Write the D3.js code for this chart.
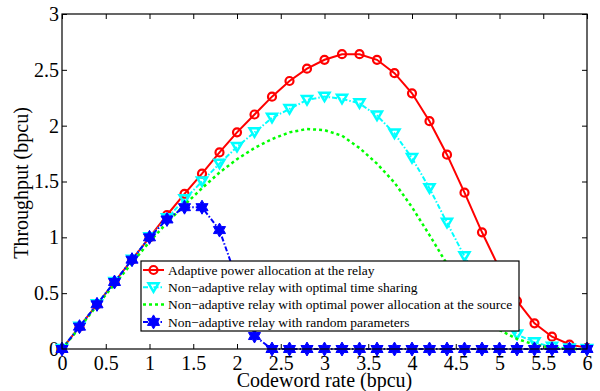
<!DOCTYPE html>
<html>
<head>
<meta charset="utf-8">
<script src="https://cdn.jsdelivr.net/npm/d3@7"></script>
<style>
  body { margin: 0; background: #fff; }
  svg { display: block; font-family: 'Liberation Serif', 'Times New Roman', serif; }
</style>
</head>
<body>
<svg width="600" height="391"></svg>
<script>
// codeword rates (bpcu)
let rates = [0, 0.2, 0.4, 0.6, 0.8, 1.0, 1.2, 1.4, 1.6, 1.8, 2.0, 2.2, 2.4, 2.6, 2.8, 3.0,
             3.2, 3.4, 3.6, 3.8, 4.0, 4.2, 4.4, 4.6, 4.8, 5.0, 5.2, 5.4, 5.6, 5.8, 6.0]

let adaptive = [0, 0.2, 0.4, 0.6, 0.8, 1.0, 1.2, 1.39, 1.57, 1.76, 1.94, 2.10, 2.26, 2.40, 2.51, 2.59,
                2.64, 2.64, 2.59, 2.47, 2.29, 2.04, 1.74, 1.40, 1.045, 0.72, 0.43, 0.23, 0.11, 0.04, 0.01]

let timeSharing = [0, 0.2, 0.4, 0.6, 0.8, 1.0, 1.17, 1.34, 1.50, 1.66, 1.81, 1.94, 2.07, 2.15, 2.23, 2.26,
                   2.24, 2.20, 2.09, 1.93, 1.71, 1.44, 1.13, 0.83, 0.55, 0.32, 0.13, 0.06, 0.02, 0.005, 0]

let powerAlloc = [0, 0.19, 0.39, 0.58, 0.77, 0.96, 1.13, 1.29, 1.44, 1.58, 1.70, 1.80, 1.88, 1.94, 1.97, 1.96,
                  1.91, 1.80, 1.66, 1.49, 1.27, 1.02, 0.76, 0.52, 0.32, 0.17, 0.09, 0.04, 0.01, 0, 0]

let randomParams = [0, 0.2, 0.4, 0.6, 0.8, 1.0, 1.16, 1.27, 1.27, 1.065, 0.62, 0.116, 0, 0, 0, 0,
                    0, 0, 0, 0, 0, 0, 0, 0, 0, 0, 0, 0, 0, 0, 0]

let xTicks = [0, 0.5, 1, 1.5, 2, 2.5, 3, 3.5, 4, 4.5, 5, 5.5, 6]
let yTicks = [0, 0.5, 1, 1.5, 2, 2.5, 3]

let legendLabels = [
  'Adaptive power allocation at the relay',
  'Non\u2212adaptive relay with optimal time sharing',
  'Non\u2212adaptive relay with optimal power allocation at the source',
  'Non\u2212adaptive relay with random parameters'
]

let plotLeft = 62, plotRight = 587, plotTop = 14, plotBottom = 349
let serif = "'Liberation Serif', 'Times New Roman', serif"

let xScale = d3.scaleLinear().domain([0, 6]).range([plotLeft, plotRight])
let yScale = d3.scaleLinear().domain([0, 3]).range([plotBottom, plotTop])

// matlab style hexagram marker, size = outer radius
let hexagram = {
  draw(ctx, R) {
    let r = R / Math.sqrt(3)
    for (let i = 0; i < 12; i++) {
      let a = -Math.PI / 2 + i * Math.PI / 6
      let rr = i % 2 === 0 ? R : r
      let x = rr * Math.cos(a), y = rr * Math.sin(a)
      if (i === 0) ctx.moveTo(x, y); else ctx.lineTo(x, y)
    }
    ctx.closePath()
  }
}
let triDown = {
  draw(ctx, R) {
    ctx.moveTo(-R, -R * 0.8)
    ctx.lineTo(R, -R * 0.8)
    ctx.lineTo(0, R * 0.9)
    ctx.closePath()
  }
}

let series = [
  { name: legendLabels[0], values: adaptive, color: '#ff0000', dash: null, width: 2, marker: 'circle' },
  { name: legendLabels[1], values: timeSharing, color: '#00ffff', dash: '5,2,1.5,2', width: 2, marker: 'tri' },
  { name: legendLabels[2], values: powerAlloc, color: '#00ff00', dash: '3,3', width: 2.5, marker: null },
  { name: legendLabels[3], values: randomParams, color: '#0000ff', dash: '5,2,1.5,2', width: 2, marker: 'hex' }
]

let svg = d3.select('svg')

let xAxis = d3.axisBottom(xScale).tickValues(xTicks).tickFormat(d => d)
              .tickSizeInner(-5).tickSizeOuter(0).tickPadding(7)
let yAxis = d3.axisLeft(yScale).tickValues(yTicks).tickFormat(d => d)
              .tickSizeInner(-5).tickSizeOuter(0).tickPadding(3)

svg.append('g')
    .attr('transform', `translate(0, ${plotBottom})`)
    .call(xAxis)
svg.append('g')
    .attr('transform', `translate(${plotLeft}, 0)`)
    .call(yAxis)
svg.append('g')
    .attr('transform', `translate(0, ${plotTop})`)
    .call(d3.axisTop(xScale).tickValues(xTicks).tickFormat('').tickSizeInner(-5).tickSizeOuter(0))
svg.append('g')
    .attr('transform', `translate(${plotRight}, 0)`)
    .call(d3.axisRight(yScale).tickValues(yTicks).tickFormat('').tickSizeInner(-5).tickSizeOuter(0))

svg.selectAll('.domain').remove()
svg.selectAll('.tick text')
    .style('font-family', serif)
    .style('font-size', '20px')
    .attr('fill', '#000')
svg.selectAll('.tick line').attr('stroke', '#000')

let line = d3.line()
  .x((d, i) => xScale(rates[i]))
  .y(d => yScale(d))

function drawMarker (g, s, x, y) {
  if (s.marker === 'circle') {
    g.append('circle')
        .attr('cx', x).attr('cy', y).attr('r', 4)
        .attr('fill', 'none').attr('stroke', s.color).attr('stroke-width', 2.2)
  } else if (s.marker === 'tri') {
    g.append('path')
        .attr('d', d3.symbol().type(triDown).size(5)())
        .attr('transform', `translate(${x}, ${y})`)
        .attr('fill', 'none').attr('stroke', s.color).attr('stroke-width', 2.5)
  } else if (s.marker === 'hex') {
    g.append('path')
        .attr('d', d3.symbol().type(hexagram).size(7)())
        .attr('transform', `translate(${x}, ${y})`)
        .attr('fill', s.color).attr('stroke', s.color).attr('stroke-width', 1)
  }
}

series.forEach(s => {
  let g = svg.append('g')
  g.append('path')
      .attr('d', line(s.values))
      .attr('fill', 'none')
      .attr('stroke', s.color)
      .attr('stroke-width', s.width)
      .attr('stroke-dasharray', s.dash)
  s.values.forEach((v, i) => drawMarker(g, s, xScale(rates[i]), yScale(v)))
})

// frame
svg.append('rect')
    .attr('x', plotLeft).attr('y', plotTop)
    .attr('width', plotRight - plotLeft).attr('height', plotBottom - plotTop)
    .attr('fill', 'none').attr('stroke', '#000').attr('stroke-width', 1.2)

// legend
let legend = svg.append('g')
legend.append('rect')
    .attr('x', 141).attr('y', 261)
    .attr('width', 378).attr('height', 70)
    .attr('fill', '#fff').attr('stroke', '#000').attr('stroke-width', 1.2)

series.forEach((s, i) => {
  let y = 270 + i * 17.3
  let row = legend.append('g')
  row.append('line')
      .attr('x1', 143).attr('x2', 164).attr('y1', y).attr('y2', y)
      .attr('stroke', s.color).attr('stroke-width', s.width)
      .attr('stroke-dasharray', s.dash)
  drawMarker(row, s, 153.5, y)
  row.append('text')
      .attr('x', 168).attr('y', y)
      .attr('dy', '0.35em')
      .style('font-family', serif)
      .style('font-size', '13.5px')
      .text(s.name)
})

svg.append('text')
    .attr('x', (plotLeft + plotRight) / 2)
    .attr('y', 387)
    .style('text-anchor', 'middle')
    .style('font-family', serif)
    .style('font-size', '20px')
    .text('Codeword rate (bpcu)')

svg.append('text')
    .attr('transform', 'rotate(-90)')
    .attr('x', -183)
    .attr('y', 28)
    .style('text-anchor', 'middle')
    .style('font-family', serif)
    .style('font-size', '20px')
    .text('Throughput (bpcu)')
</script>
</body>
</html>
